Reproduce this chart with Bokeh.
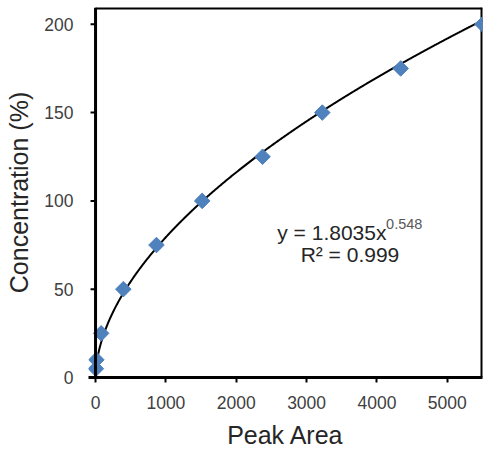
import numpy as np
from bokeh.plotting import figure
from bokeh.models import Range1d, FixedTicker, Label
from bokeh.embed import file_html
from bokeh.resources import INLINE

# Data
peak_area = [5, 12, 80, 395, 866, 1516, 2374, 3223, 4337, 5500]
concentration = [5, 10, 25, 50, 75, 100, 125, 150, 175, 200]

# Power-law trendline coefficients (as displayed on the chart)
coef_a = 1.8035
coef_b = 0.548
r_squared = "0.999"

x_ticks = [0, 1000, 2000, 3000, 4000, 5000]
y_ticks = [0, 50, 100, 150, 200]

FONT = "Liberation Sans"
X_MIN, X_MAX = -100, 5500
Y_MIN, Y_MAX = 0, 209.5
Y_TICK_LEN = 71  # data units along x (about 5 px)

p = figure(width=483, height=455, x_range=Range1d(X_MIN, X_MAX), y_range=Range1d(Y_MIN, Y_MAX),
           min_border_left=88, min_border_right=1, min_border_top=7, min_border_bottom=78,
           output_backend="svg", toolbar_location=None)
p.background_fill_color = "white"
p.border_fill_color = "white"
p.outline_line_color = None
p.xgrid.visible = False
p.ygrid.visible = False

# top and right frame borders
p.segment(x0=[0, X_MAX], y0=[Y_MAX, 0], x1=[X_MAX, X_MAX], y1=[Y_MAX, Y_MAX],
          line_color="black", line_width=4)

# trendline
xs = np.linspace(1, 5500, 600)
ys = coef_a * xs ** coef_b
p.line(xs, ys, line_color="black", line_width=2)

p.scatter(peak_area, concentration, marker="square", size=11, angle=np.pi / 4,
          fill_color="#4F81BD", line_color="#4F81BD")

# vertical axis line at x = 0 with outward ticks
p.segment(x0=[0], y0=[Y_MIN], x1=[0], y1=[Y_MAX], line_color="black", line_width=3)
p.segment(x0=[-Y_TICK_LEN] * len(y_ticks), y0=y_ticks, x1=[0] * len(y_ticks), y1=y_ticks,
          line_color="black", line_width=2)

for ax, ticks in ((p.xaxis[0], x_ticks), (p.yaxis[0], y_ticks)):
    ax.ticker = FixedTicker(ticks=ticks)
    ax.minor_tick_line_color = None
    ax.axis_line_color = "black"
    ax.axis_line_width = 3
    ax.major_tick_line_color = "black"
    ax.major_tick_line_width = 2
    ax.major_tick_out = 5
    ax.major_tick_in = 0
    ax.major_label_text_font = FONT
    ax.major_label_text_font_size = "17.5px"
    ax.major_label_text_color = "#404040"
    ax.axis_label_text_font = FONT
    ax.axis_label_text_font_size = "25px"
    ax.axis_label_text_font_style = "normal"
    ax.axis_label_text_color = "#262626"

p.yaxis.axis_line_color = None
p.yaxis.major_tick_line_color = None
p.yaxis.major_tick_out = 0

p.xaxis.axis_label = "Peak Area"
p.yaxis.axis_label = "Concentration (%)"
p.xaxis.major_label_standoff = 13
p.yaxis.major_label_standoff = 15
p.xaxis.axis_label_standoff = 9
p.yaxis.axis_label_standoff = 8

p.add_layout(Label(x=2583, y=82.1, text="y = %.4fx" % coef_a, text_font=FONT,
                   text_font_size="21px", text_color="#262626", text_baseline="alphabetic"))
p.add_layout(Label(x=4130, y=87.0, text="%.3f" % coef_b, text_font=FONT,
                   text_font_size="14.5px", text_color="#595959", text_baseline="alphabetic"))
p.add_layout(Label(x=2915, y=69.5, text="R² = " + r_squared, text_font=FONT,
                   text_font_size="21px", text_color="#262626", text_baseline="alphabetic"))

open("out.html", "w").write(file_html(p, INLINE))
